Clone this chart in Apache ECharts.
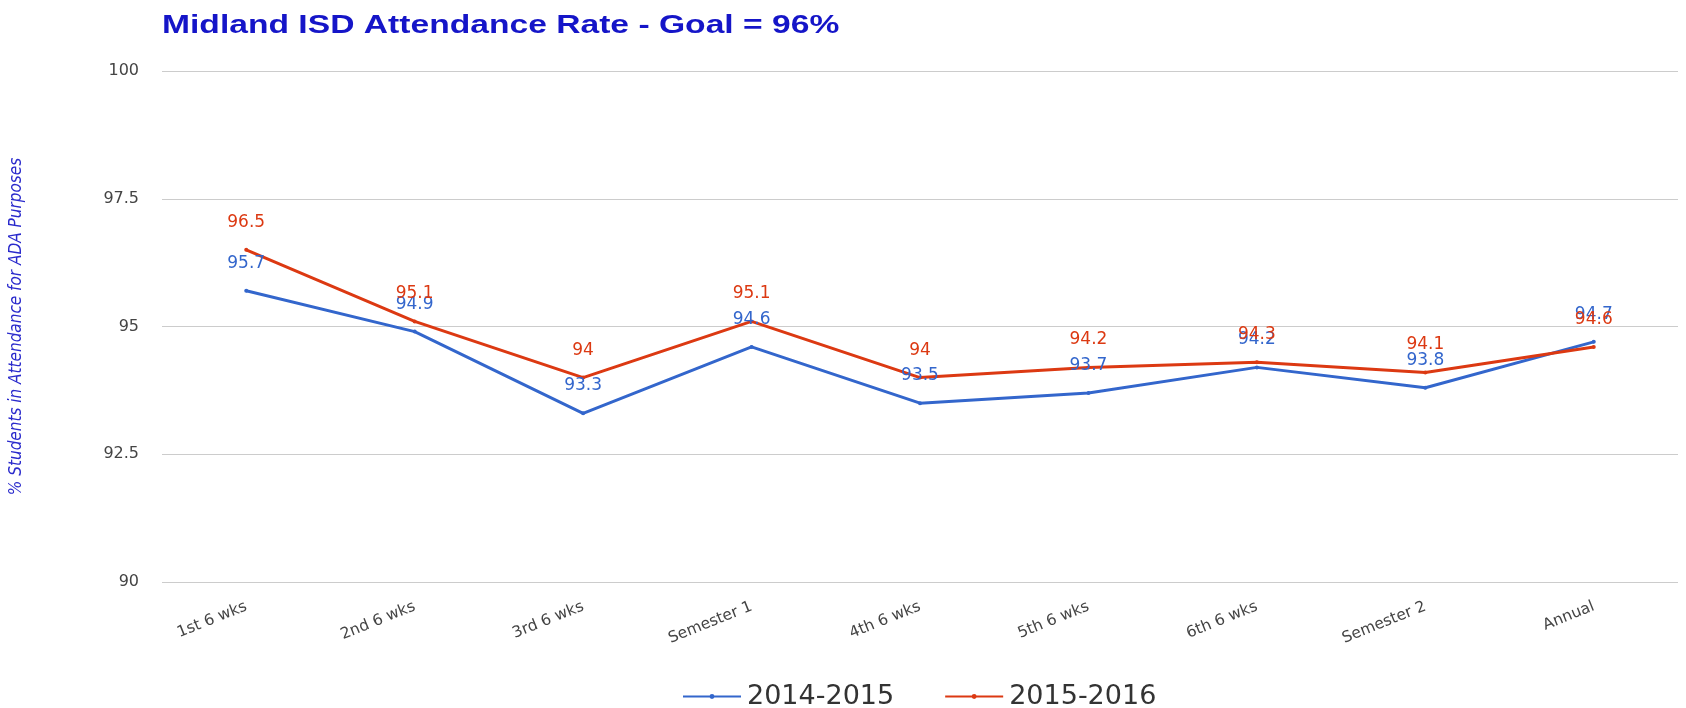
<!DOCTYPE html>
<html>
<head>
<meta charset="utf-8">
<script src="https://cdn.jsdelivr.net/npm/echarts@6/dist/echarts.min.js"></script>
<style>html,body{margin:0;padding:0;background:#fff}#c{width:1686px;height:708px}</style>
</head>
<body>
<div id="c"></div>
<script>
const categories = ['1st 6 wks','2nd 6 wks','3rd 6 wks','Semester 1','4th 6 wks','5th 6 wks','6th 6 wks','Semester 2','Annual'];
const series2014 = [95.7, 94.9, 93.3, 94.6, 93.5, 93.7, 94.2, 93.8, 94.7];
const series2015 = [96.5, 95.1, 94, 95.1, 94, 94.2, 94.3, 94.1, 94.6];
const yTicks = [90, 92.5, 95, 97.5, 100];
const titleText = 'Midland ISD Attendance Rate - Goal = 96%';

const FONT = '"DejaVu Sans", Arial, sans-serif';
const chart = echarts.init(document.getElementById('c'));
const mk = (name, data, color) => ({
  name, type: 'line', data,
  symbol: 'circle', symbolSize: 4,
  lineStyle: { width: 3, color },
  itemStyle: { color },
  label: { show: true, position: 'top', distance: 17, color, fontSize: 17, fontFamily: FONT },
  emphasis: { disabled: true }
});
chart.setOption({
  animation: false,
  graphic: [{
    type: 'text', x: 162, y: 14, scaleX: 1.345, scaleY: 1, silent: true,
    style: {
      text: titleText, x: 0, y: 0, align: 'left', verticalAlign: 'top',
      fill: '#1515c8', font: 'bold 25px "Liberation Sans", Arial, sans-serif'
    }
  }],
  grid: { left: 160, right: 8, top: 71, bottom: 126, containLabel: false },
  legend: {
    top: 678, left: 677, itemGap: 50,
    itemWidth: 58, itemHeight: 6,
    textStyle: { fontSize: 27, color: '#333', fontFamily: FONT, padding: [0, 0, 0, 1] },
    data: ['2014-2015', '2015-2016']
  },
  xAxis: {
    type: 'category', data: categories, boundaryGap: true,
    axisLine: { show: false }, axisTick: { show: false },
    axisLabel: { rotate: 22, color: '#444', fontSize: 15.5, margin: 24, interval: 0, fontFamily: FONT }
  },
  yAxis: {
    type: 'value', min: yTicks[0], max: yTicks[yTicks.length - 1], interval: 2.5,
    name: '% Students in Attendance for ADA Purposes',
    nameLocation: 'middle', nameGap: 137, nameRotate: 90,
    nameTextStyle: { color: '#2a2acc', fontSize: 17, fontStyle: 'italic', fontFamily: '"Liberation Sans Narrow", "DejaVu Sans Condensed", Arial, sans-serif' },
    axisLabel: { color: '#444', fontSize: 16, margin: 23, fontFamily: FONT },
    splitLine: { lineStyle: { color: '#cccccc', width: 1 } },
    axisLine: { show: false }, axisTick: { show: false }
  },
  series: [mk('2014-2015', series2014, '#3366cc'), mk('2015-2016', series2015, '#dc3912')]
});
</script>
</body>
</html>
